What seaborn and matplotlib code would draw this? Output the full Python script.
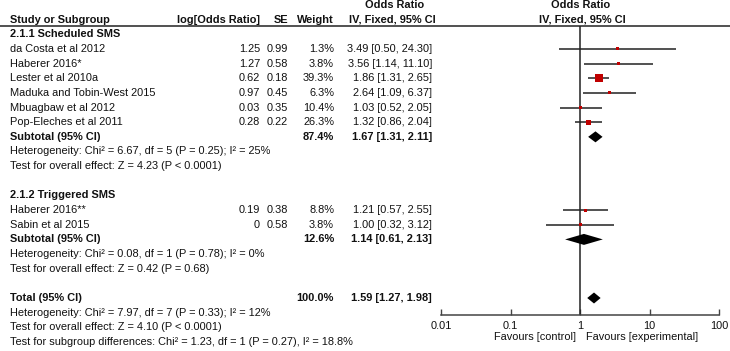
import numpy as np
import pandas as pd
import matplotlib
matplotlib.use("Agg")
import matplotlib.pyplot as plt
import seaborn as sns

# ---------------------------------------------------------------
# data
g1_title = "2.1.1 Scheduled SMS"
g1_study = ["da Costa et al 2012", "Haberer 2016*", "Lester et al 2010a",
            "Maduka and Tobin-West 2015", "Mbuagbaw et al 2012", "Pop-Eleches et al 2011"]
g1_logor = [1.25, 1.27, 0.62, 0.97, 0.03, 0.28]
g1_se = [0.99, 0.58, 0.18, 0.45, 0.35, 0.22]
g1_weight = [1.3, 3.8, 39.3, 6.3, 10.4, 26.3]
g1_or = [3.49, 3.56, 1.86, 2.64, 1.03, 1.32]
g1_lo = [0.50, 1.14, 1.31, 1.09, 0.52, 0.86]
g1_hi = [24.30, 11.10, 2.65, 6.37, 2.05, 2.04]
g1_sub = [87.4, 1.67, 1.31, 2.11]  # weight, or, lo, hi
g1_het = "Heterogeneity: Chi² = 6.67, df = 5 (P = 0.25); I² = 25%"
g1_test = "Test for overall effect: Z = 4.23 (P < 0.0001)"

g2_title = "2.1.2 Triggered SMS"
g2_study = ["Haberer 2016**", "Sabin et al 2015"]
g2_logor = [0.19, 0]
g2_se = [0.38, 0.58]
g2_weight = [8.8, 3.8]
g2_or = [1.21, 1.00]
g2_lo = [0.57, 0.32]
g2_hi = [2.55, 3.12]
g2_sub = [12.6, 1.14, 0.61, 2.13]
g2_het = "Heterogeneity: Chi² = 0.08, df = 1 (P = 0.78); I² = 0%"
g2_test = "Test for overall effect: Z = 0.42 (P = 0.68)"

total = [100.0, 1.59, 1.27, 1.98]
tot_het = "Heterogeneity: Chi² = 7.97, df = 7 (P = 0.33); I² = 12%"
tot_test = "Test for overall effect: Z = 4.10 (P < 0.0001)"
sub_diff = "Test for subgroup differences: Chi² = 1.23, df = 1 (P = 0.27), I² = 18.8%"

tick_vals = [0.01, 0.1, 1, 10, 100]
tick_labels = ["0.01", "0.1", "1", "10", "100"]

# ---------------------------------------------------------------
sns.set_style("white")
plt.rcParams['font.family'] = ['Liberation Sans', 'DejaVu Sans']
fs = 7.9
txt_col = '#111111'
line_col = '#222222'
sq_col = '#c00000'


def ry(i):
    # pixel y of row i
    return 5 + 14.65 * i


fig = plt.figure(figsize=(7.3, 3.51), dpi=100)
ax = fig.add_axes([0, 0, 1, 1])
ax.set_xlim(0, 730)
ax.set_ylim(351, 0)
ax.axis('off')

# plot panel: same pixel y range, log x
y_top, y_bot = 25.7, 315
x_l, x_r = 441, 719
axp = fig.add_axes([x_l / 730, (351 - y_bot) / 351, (x_r - x_l) / 730, (y_bot - y_top) / 351])
axp.set_xscale('log')
axp.set_xlim(0.01, 100)
axp.set_ylim(y_bot, y_top)
axp.patch.set_alpha(0)
for s in ['top', 'right', 'left']:
    axp.spines[s].set_visible(False)
axp.spines['bottom'].set_color('#444444')
axp.spines['bottom'].set_linewidth(1.1)
axp.set_xticks(tick_vals)
axp.set_xticklabels(tick_labels)
axp.minorticks_off()
axp.set_yticks([])
axp.tick_params(axis='x', direction='in', length=4, width=1, color='#444444',
                pad=4, labelsize=fs, labelcolor=txt_col, bottom=True)
axp.axvline(1, color=line_col, lw=1.1, zorder=1)

# header
ax.text(395, ry(0), "Odds Ratio", ha='center', va='center', fontsize=fs, weight='bold', color=txt_col)
ax.text(581, ry(0), "Odds Ratio", ha='center', va='center', fontsize=fs, weight='bold', color=txt_col)
ax.text(10, ry(1), "Study or Subgroup", ha='left', va='center', fontsize=fs, weight='bold', color=txt_col)
ax.text(260, ry(1), "log[Odds Ratio]", ha='right', va='center', fontsize=fs, weight='bold', color=txt_col)
ax.text(288, ry(1), "SE", ha='right', va='center', fontsize=fs, weight='bold', color=txt_col)
ax.text(334, ry(1), "Weight", ha='right', va='center', fontsize=fs, weight='bold', color=txt_col)
ax.text(392, ry(1), "IV, Fixed, 95% CI", ha='center', va='center', fontsize=fs, weight='bold', color=txt_col)
ax.text(582, ry(1), "IV, Fixed, 95% CI", ha='center', va='center', fontsize=fs, weight='bold', color=txt_col)
ax.axhline(y_top, color=line_col, lw=1.1)


def ci_str(o, l, h):
    return f"{o:.2f} [{l:.2f}, {h:.2f}]"


def study_rows(first, names, logor, se, w, o, lo, hi):
    for k in range(len(names)):
        y = ry(first + k)
        ax.text(10, y, names[k], ha='left', va='center', fontsize=fs, color=txt_col)
        ax.text(260, y, f"{logor[k]:g}", ha='right', va='center', fontsize=fs, color=txt_col)
        ax.text(288, y, f"{se[k]:.2f}", ha='right', va='center', fontsize=fs, color=txt_col)
        ax.text(334, y, f"{w[k]:.1f}%", ha='right', va='center', fontsize=fs, color=txt_col)
        ax.text(432, y, ci_str(o[k], lo[k], hi[k]), ha='right', va='center', fontsize=fs, color=txt_col)
    return pd.DataFrame({'study': names, 'weight': w, 'or': o, 'lo': lo, 'hi': hi,
                         'y': [ry(first + k) for k in range(len(names))]})


def summary_row(i, label, vals):
    y = ry(i)
    ax.text(10, y, label, ha='left', va='center', fontsize=fs, weight='bold', color=txt_col)
    ax.text(334, y, f"{vals[0]:.1f}%", ha='right', va='center', fontsize=fs, weight='bold', color=txt_col)
    ax.text(432, y, ci_str(*vals[1:]), ha='right', va='center', fontsize=fs, weight='bold', color=txt_col)
    o, l, h = vals[1:]
    axp.fill([l, o, h, o], [y, y - 5.5, y, y + 5.5], color='black', lw=0, zorder=3)


def note(i, s):
    ax.text(10, ry(i), s, ha='left', va='center', fontsize=fs, color=txt_col)


ax.text(10, ry(2), g1_title, ha='left', va='center', fontsize=fs, weight='bold', color=txt_col)
d1 = study_rows(3, g1_study, g1_logor, g1_se, g1_weight, g1_or, g1_lo, g1_hi)
summary_row(9, "Subtotal (95% CI)", g1_sub)
note(10, g1_het)
note(11, g1_test)

ax.text(10, ry(13), g2_title, ha='left', va='center', fontsize=fs, weight='bold', color=txt_col)
d2 = study_rows(14, g2_study, g2_logor, g2_se, g2_weight, g2_or, g2_lo, g2_hi)
summary_row(16, "Subtotal (95% CI)", g2_sub)
note(17, g2_het)
note(18, g2_test)

summary_row(20, "Total (95% CI)", total)
note(21, tot_het)
note(22, tot_test)
note(23, sub_diff)

# study estimates
df = pd.concat([d1, d2], ignore_index=True)
axp.hlines(df['y'], df['lo'], df['hi'], color=line_col, lw=1.1, zorder=2)
# square side roughly proportional to weight, with a minimal dot
side_px = {w: max(3.0, 0.2 * w) for w in df['weight'].unique()}
sizes = {w: (s * 0.72) ** 2 for w, s in side_px.items()}
sns.scatterplot(data=df, x='or', y='y', size='weight', sizes=sizes, marker='s',
                color=sq_col, linewidth=0, legend=False, ax=axp, zorder=4)
axp.set_xlabel("")
axp.set_ylabel("")

ax.text(576, 337, "Favours [control]", ha='right', va='center', fontsize=fs, color=txt_col)
ax.text(586, 337, "Favours [experimental]", ha='left', va='center', fontsize=fs, color=txt_col)

fig.savefig("out.png", dpi=100)
